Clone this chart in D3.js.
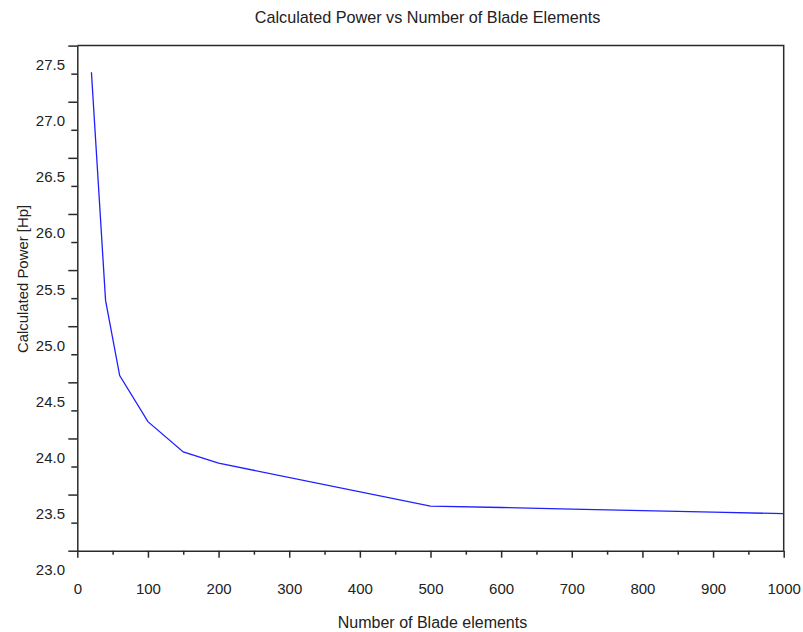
<!DOCTYPE html>
<html>
<head>
<meta charset="utf-8">
<script src="https://cdn.jsdelivr.net/npm/d3@7"></script>
<style>
  html, body { margin: 0; padding: 0; background: #ffffff; }
  svg { display: block; }
  text { font-family: "Liberation Sans", Arial, Helvetica, sans-serif; fill: #222; }
</style>
</head>
<body>
<svg id="chart" width="803" height="632"></svg>
<script>
// Number of blade elements used in the calculation
const elements = [20, 40, 60, 100, 150, 200, 500, 600, 700, 800, 900, 1000];
// Calculated power [Hp] for each element count
const power = [27.262, 25.23, 24.56, 24.15, 23.88, 23.78, 23.398, 23.385, 23.370, 23.357, 23.343, 23.330];

// Axis ticks and labels
const xMajorTicks = [0, 100, 200, 300, 400, 500, 600, 700, 800, 900, 1000];
const xMinorTicks = [50, 150, 250, 350, 450, 550, 650, 750, 850, 950];
const yMajorTicks = [23.0, 23.5, 24.0, 24.5, 25.0, 25.5, 26.0, 26.5, 27.0, 27.5];
const yMinorTicks = [23.25, 23.75, 24.25, 24.75, 25.25, 25.75, 26.25, 26.75, 27.25];

const chartTitle = "Calculated Power vs Number of Blade Elements";
const xTitle = "Number of Blade elements";
const yTitle = "Calculated Power [Hp]";

const svg = d3.select("#chart");
svg.append("rect").attr("width", 803).attr("height", 632).attr("fill", "#ffffff");

const x = d3.scaleLinear().domain([0, 1000]).range([77.3, 783.7]);
const y = d3.scaleLinear().domain([23, 27.5]).range([550.7, 45.6]);

const axisColor = "#2a2a2a";

// Box: top and right edges
svg.append("path")
  .attr("d", `M${x(0)},${y(27.5)}H${x(1000)}V${y(23)}`)
  .attr("fill", "none")
  .attr("stroke", axisColor)
  .attr("stroke-width", 1.5);

// Bottom axis
const gx = svg.append("g").attr("transform", `translate(0,${y(23)})`);
gx.call(d3.axisBottom(x).tickValues(xMajorTicks).tickFormat(d3.format("d"))
  .tickSize(7).tickPadding(25.6).tickSizeOuter(0));
const gxMinor = svg.append("g").attr("transform", `translate(0,${y(23)})`);
gxMinor.call(d3.axisBottom(x).tickValues(xMinorTicks).tickFormat("").tickSize(4).tickSizeOuter(0));
gxMinor.select(".domain").remove();

// Left axis
const gy = svg.append("g").attr("transform", `translate(${x(0)},0)`);
gy.call(d3.axisLeft(y).tickValues(yMajorTicks).tickFormat(d3.format(".1f"))
  .tickSize(9).tickPadding(3.3).tickSizeOuter(0));
gy.selectAll(".tick text").attr("dy", "1.6em");
const gyMinor = svg.append("g").attr("transform", `translate(${x(0)},0)`);
gyMinor.call(d3.axisLeft(y).tickValues(yMinorTicks).tickFormat("").tickSize(6).tickSizeOuter(0));
gyMinor.select(".domain").remove();

svg.selectAll(".domain, .tick line")
  .attr("stroke", axisColor)
  .attr("stroke-width", 1.5);
svg.selectAll(".tick text")
  .attr("font-family", "'Liberation Sans', Arial, sans-serif")
  .attr("font-size", 15)
  .attr("fill", "#222");

// Power curve
const line = d3.line().x((d, i) => x(elements[i])).y(d => y(d));
svg.append("path")
  .datum(power)
  .attr("d", line)
  .attr("fill", "none")
  .attr("stroke", "#2020ff")
  .attr("stroke-width", 1.3);

// Titles
svg.append("text")
  .attr("x", 427.5).attr("y", 22.5)
  .attr("text-anchor", "middle")
  .attr("font-size", 16.2)
  .text(chartTitle);

svg.append("text")
  .attr("x", 432.5).attr("y", 628)
  .attr("text-anchor", "middle")
  .attr("font-size", 16)
  .text(xTitle);

svg.append("text")
  .attr("transform", "translate(28,279) rotate(-90)")
  .attr("text-anchor", "middle")
  .attr("font-size", 14.9)
  .text(yTitle);
</script>
</body>
</html>
